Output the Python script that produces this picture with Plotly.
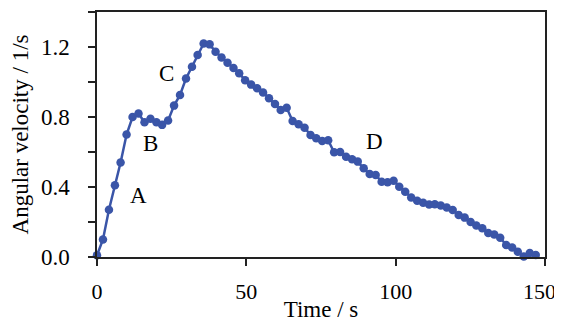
import plotly.graph_objects as go

time_s = [0, 2.0, 4.0, 6.0, 7.9, 9.9, 11.9, 13.9, 15.9, 17.9, 19.9, 21.8, 23.8, 25.8,
          27.8, 29.8, 31.8, 33.7, 35.7, 37.7, 39.7, 41.7, 43.7, 45.7, 47.6, 49.6, 51.6,
          53.6, 55.6, 57.6, 59.6, 61.5, 63.5, 65.5, 67.5, 69.5, 71.5, 73.4, 75.4, 77.4,
          79.4, 81.4, 83.4, 85.4, 87.3, 89.3, 91.3, 93.3, 95.3, 97.3, 99.3, 101.2, 103.2,
          105.2, 107.2, 109.2, 111.2, 113.1, 115.1, 117.1, 119.1, 121.1, 123.1, 125.1,
          127.0, 129.0, 131.0, 133.0, 135.0, 137.0, 139.0, 140.9, 142.9, 144.9, 146.9]

angular_velocity = [0.01, 0.10, 0.27, 0.41, 0.54, 0.70, 0.80, 0.82, 0.77, 0.79, 0.77, 0.755,
                    0.78, 0.865, 0.926, 1.02, 1.087, 1.154, 1.22, 1.215, 1.173, 1.14, 1.11,
                    1.08, 1.05, 1.01, 0.985, 0.964, 0.94, 0.907, 0.874, 0.84, 0.853, 0.777,
                    0.758, 0.739, 0.697, 0.678, 0.663, 0.667, 0.598, 0.600, 0.573, 0.558,
                    0.545, 0.507, 0.474, 0.469, 0.43, 0.427, 0.436, 0.402, 0.373, 0.34,
                    0.322, 0.31, 0.30, 0.302, 0.294, 0.283, 0.268, 0.24, 0.225, 0.2, 0.18,
                    0.164, 0.137, 0.128, 0.11, 0.069, 0.054, 0.03, 0.003, 0.023, 0.011]

phase_labels = ["A", "B", "C", "D"]
phase_x = [14, 18, 23.3, 93]
phase_y = [0.35, 0.65, 1.05, 0.66]

x_ticks = [0, 50, 100, 150]
# the last label is padded so that it stays inside the window edge
x_tick_text = ["0", "50", "100", "150\u00a0\u00a0"]
y_ticks = [0.0, 0.4, 0.8, 1.2]

FONT = "Liberation Serif"
BLUE = "#3A55A8"
FS = 23

fig = go.Figure()
fig.add_trace(go.Scatter(
    x=time_s, y=angular_velocity, mode="lines+markers",
    line=dict(color=BLUE, width=2.5),
    marker=dict(color=BLUE, size=8.5),
    showlegend=False, cliponaxis=False,
))

for lab, xx, yy in zip(phase_labels, phase_x, phase_y):
    fig.add_annotation(x=xx, y=yy, text=lab, showarrow=False,
                       font=dict(family=FONT, size=FS, color="black"))

def axis_common(fs):
    return dict(showgrid=False, zeroline=False, showline=True, linecolor="#222",
                linewidth=1.5, mirror=True, ticks="outside", ticklen=7,
                tickwidth=1.5, tickcolor="#222", automargin=False,
                ticklabeloverflow="allow",
                tickfont=dict(family=FONT, size=fs, color="black"))

fig.update_xaxes(range=[0, 150], tickvals=x_ticks, ticktext=x_tick_text,
                 ticklabelstandoff=7,
                 title=dict(text="Time / s", font=dict(family=FONT, size=FS, color="black"),
                            standoff=0),
                 **axis_common(22))
fig.update_yaxes(range=[0, 1.4], tickvals=y_ticks, tickformat=".1f", ticklabelstandoff=14,
                 minor=dict(tickvals=[0.2, 0.6, 1.0, 1.4], ticks="outside", ticklen=7,
                            tickwidth=1.5, tickcolor="#222"),
                 title=dict(text="Angular velocity / 1/s",
                            font=dict(family=FONT, size=FS, color="black"), standoff=8),
                 **axis_common(FS))

# The page body has an 8px margin, so the figure is sized to end at the window edge.
fig.update_layout(width=554, height=314, margin=dict(l=89, r=17, t=4, b=65),
                  paper_bgcolor="white", plot_bgcolor="white",
                  font=dict(family=FONT, size=FS, color="black"))

fig.write_html("out.html")
